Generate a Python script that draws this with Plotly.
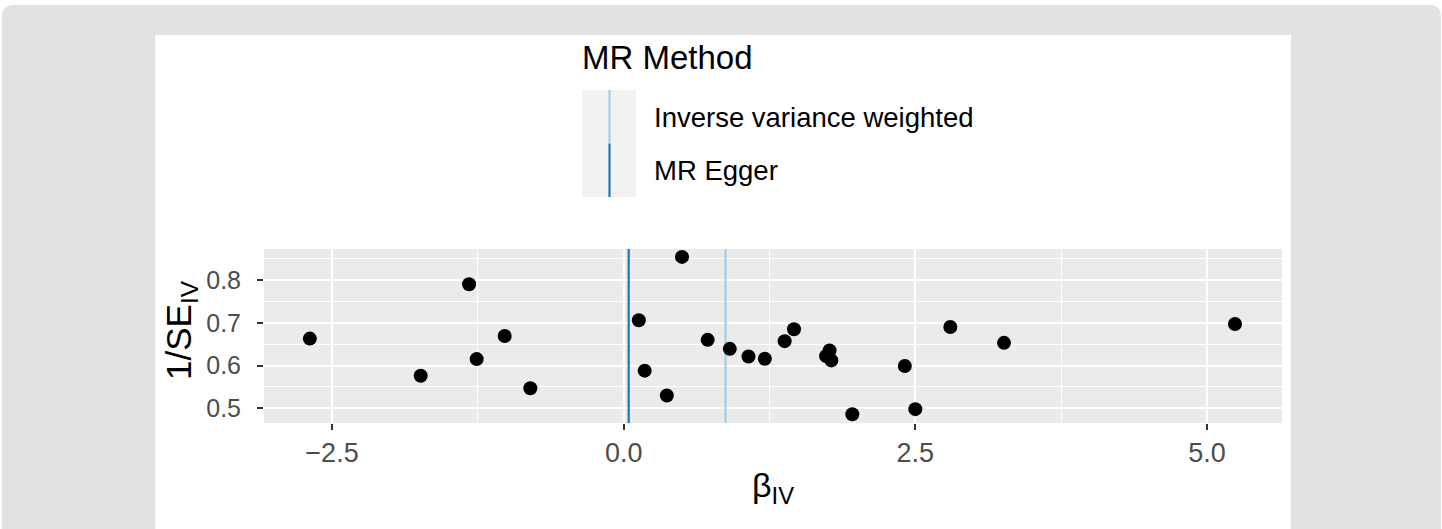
import plotly.graph_objects as go

# ---- data ----
beta_iv = [-2.69, -1.74, -1.325, -1.26, -1.02, -0.80, 0.50, 0.13, 0.18, 0.37,
           0.72, 0.91, 1.07, 1.21, 1.38, 1.46, 1.735, 1.765, 1.78, 1.96,
           2.41, 2.50, 2.80, 3.26, 5.24]
inv_se_iv = [0.663, 0.576, 0.790, 0.615, 0.669, 0.547, 0.854, 0.706, 0.588, 0.530,
             0.660, 0.639, 0.621, 0.616, 0.657, 0.685, 0.622, 0.635, 0.612, 0.486,
             0.599, 0.498, 0.690, 0.653, 0.697]
methods = ["Inverse variance weighted", "MR Egger"]
method_estimates = [0.873, 0.043]
method_colors = ["#a6cee3", "#1f78b4"]
x_ticks = [-2.5, 0.0, 2.5, 5.0]
x_ticklabels = ["\u22122.5", "0.0", "2.5", "5.0"]
y_ticks = [0.5, 0.6, 0.7, 0.8]
y_ticklabels = ["0.5", "0.6", "0.7", "0.8"]

W, H = 1442, 529
L, R, T, B = 264, 1282, 249, 423  # panel pixel box
XR = [-3.083, 5.643]
YR = [0.4656, 0.8725]


def px(x):
    return (x - L) / (R - L)


def py(y):
    return (B - y) / (B - T)


FONT = "Liberation Sans, Arial, sans-serif"

fig = go.Figure()

# vertical method lines
for m, est, col in zip(methods, method_estimates, method_colors):
    fig.add_trace(go.Scatter(x=[est, est], y=YR, mode="lines",
                             line=dict(color=col, width=2.2),
                             name=m, showlegend=False, hoverinfo="skip"))

# points
fig.add_trace(go.Scatter(x=beta_iv, y=inv_se_iv, mode="markers",
                         marker=dict(color="black", size=14, line=dict(width=0)),
                         showlegend=False))

shapes = []
# outer grey frame with rounded top corners
r = 12
x0, y0, x1, y1 = 2, 5, 1441, 540
path = (f"M {px(x0)},{py(y1)} L {px(x0)},{py(y0 + r)} "
        f"Q {px(x0)},{py(y0)} {px(x0 + r)},{py(y0)} "
        f"L {px(x1 - r)},{py(y0)} Q {px(x1)},{py(y0)} {px(x1)},{py(y0 + r)} "
        f"L {px(x1)},{py(y1)} Z")
shapes.append(dict(type="path", xref="paper", yref="paper", path=path,
                   fillcolor="#e2e2e2", line=dict(width=0), layer="below"))
# white card
shapes.append(dict(type="rect", xref="paper", yref="paper",
                   x0=px(155), x1=px(1291), y0=py(35), y1=py(560),
                   fillcolor="white", line=dict(width=0), layer="below"))
# panel background
shapes.append(dict(type="rect", xref="paper", yref="paper",
                   x0=0, x1=1, y0=0, y1=1,
                   fillcolor="#ebebeb", line=dict(width=0), layer="below"))
# legend key background
shapes.append(dict(type="rect", xref="paper", yref="paper",
                   x0=px(582), x1=px(636), y0=py(197), y1=py(90),
                   fillcolor="#f2f2f2", line=dict(width=0), layer="above"))
# legend key lines
key_x = 609.5
for i, col in enumerate(method_colors):
    ya = 90 + i * 53.5
    shapes.append(dict(type="line", xref="paper", yref="paper",
                       x0=px(key_x), x1=px(key_x), y0=py(ya), y1=py(ya + 53.5),
                       line=dict(color=col, width=2.2), layer="above"))

annotations = [
    dict(text="MR Method", xref="paper", yref="paper", x=px(580), y=py(58),
         xanchor="left", yanchor="middle", showarrow=False,
         font=dict(family=FONT, size=33, color="black")),
]
for i, m in enumerate(methods):
    annotations.append(dict(text=m, xref="paper", yref="paper",
                            x=px(652), y=py(117 + i * 53.5),
                            xanchor="left", yanchor="middle", showarrow=False,
                            font=dict(family=FONT, size=27.5, color="black")))
annotations.append(dict(text="1/SE<sub>IV</sub>", xref="paper", yref="paper",
                        x=px(181), y=py(330), textangle=-90,
                        xanchor="center", yanchor="middle", showarrow=False,
                        font=dict(family=FONT, size=35, color="black")))
annotations.append(dict(text="\u03b2<sub>IV</sub>", xref="paper", yref="paper",
                        x=px(773), y=py(487),
                        xanchor="center", yanchor="middle", showarrow=False,
                        font=dict(family=FONT, size=34, color="black")))

fig.update_layout(
    width=W, height=H,
    margin=dict(l=L, r=W - R, t=T, b=H - B, pad=0),
    paper_bgcolor="white", plot_bgcolor="rgba(0,0,0,0)",
    shapes=shapes, annotations=annotations,
    showlegend=False,
    font=dict(family=FONT),
)
fig.update_xaxes(range=XR, tickmode="array", tickvals=x_ticks, ticktext=x_ticklabels,
                 showgrid=True, gridcolor="white", gridwidth=2,
                 minor=dict(dtick=1.25, tick0=-1.25, showgrid=True,
                            gridcolor="white", gridwidth=1, ticks=""),
                 zeroline=False, showline=False,
                 ticks="outside", ticklen=6, tickwidth=1.6, tickcolor="#333333",
                 tickfont=dict(family=FONT, size=27, color="#4d4d4d"))
fig.update_yaxes(range=YR, tickmode="array", tickvals=y_ticks, ticktext=y_ticklabels,
                 showgrid=True, gridcolor="white", gridwidth=2,
                 minor=dict(dtick=0.05, tick0=0.55, showgrid=True,
                            gridcolor="white", gridwidth=1, ticks=""),
                 zeroline=False, showline=False,
                 ticks="outside", ticklen=6, tickwidth=1.6, tickcolor="#333333",
                 ticklabelstandoff=11,
                 tickfont=dict(family=FONT, size=25, color="#4d4d4d"))

fig.write_html("out.html", config={"displayModeBar": False},
               post_script="document.body.style.margin='0';")
